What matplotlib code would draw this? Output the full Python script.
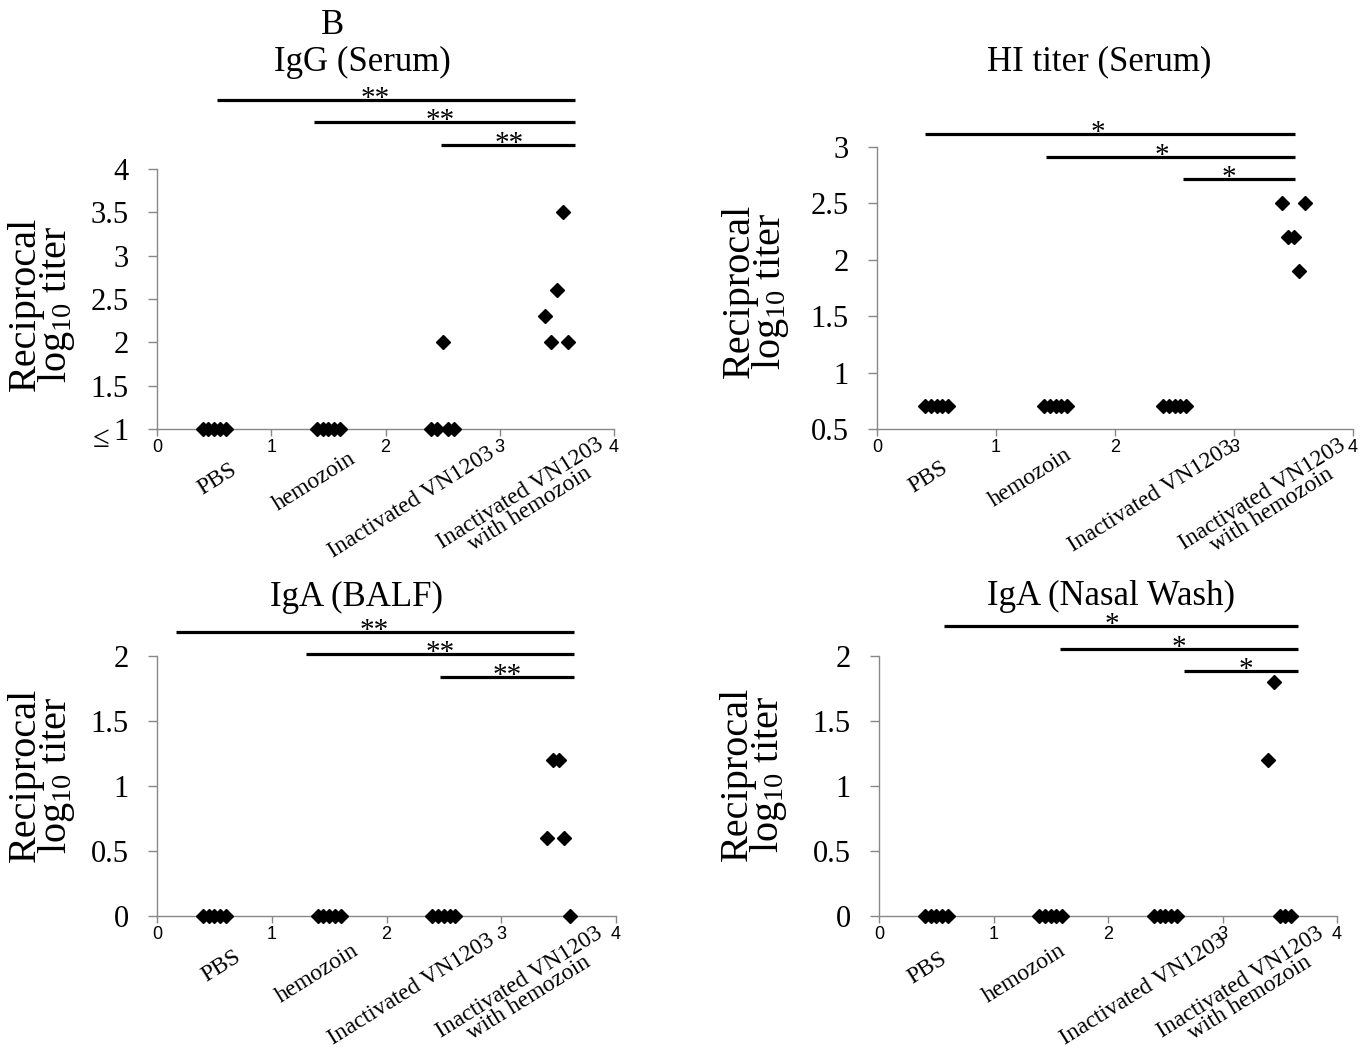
import matplotlib
matplotlib.use('Agg')
import matplotlib.pyplot as plt
from matplotlib.transforms import blended_transform_factory, offset_copy

plt.rcParams['font.family'] = ['Liberation Serif', 'DejaVu Serif']
plt.rcParams['mathtext.fontset'] = 'custom'
plt.rcParams['mathtext.rm'] = 'Liberation Serif'
plt.rcParams['mathtext.it'] = 'Liberation Serif:italic'

W, H = 1371, 1057

groups = ['PBS', 'hemozoin', 'Inactivated VN1203', 'Inactivated VN1203\nwith hemozoin']

# x position of each mouse, five per group
mouse_x = [0.4, 0.45, 0.5, 0.55, 0.6,
           1.4, 1.45, 1.5, 1.55, 1.6,
           2.4, 2.45, 2.5, 2.55, 2.6,
           3.4, 3.45, 3.5, 3.55, 3.6]

igg_serum = [1, 1, 1, 1, 1,
             1, 1, 1, 1, 1,
             1, 1, 2, 1, 1,
             2.3, 2.0, 2.6, 3.5, 2.0]
hi_serum = [0.7, 0.7, 0.7, 0.7, 0.7,
            0.7, 0.7, 0.7, 0.7, 0.7,
            0.7, 0.7, 0.7, 0.7, 0.7,
            2.5, 2.2, 2.2, 1.9, 2.5]
iga_balf = [0, 0, 0, 0, 0,
            0, 0, 0, 0, 0,
            0, 0, 0, 0, 0,
            0.6, 1.2, 1.2, 0.6, 0]
iga_nasal = [0, 0, 0, 0, 0,
             0, 0, 0, 0, 0,
             0, 0, 0, 0, 0,
             1.2, 1.8, 0, 0, 0]

titles = ['IgG (Serum)', 'HI titer (Serum)', 'IgA (BALF)', 'IgA (Nasal Wash)']

# significance bars: (start, end, height, stars, star x)
sig_igg = [(0.525, 3.66, 4.80, '**', 1.91),
           (1.37, 3.66, 4.54, '**', 2.48),
           (2.49, 3.66, 4.28, '**', 3.08)]
sig_hi = [(0.40, 3.51, 3.115, '*', 1.86),
          (1.418, 3.51, 2.914, '*', 2.39),
          (2.575, 3.51, 2.714, '*', 2.96)]
sig_balf = [(0.163, 3.63, 2.187, '**', 1.89),
            (1.30, 3.63, 2.015, '**', 2.47),
            (2.47, 3.63, 1.84, '**', 3.05)]
sig_nasal = [(0.57, 3.66, 2.23, '*', 2.03),
             (1.577, 3.66, 2.056, '*', 2.62),
             (2.66, 3.66, 1.882, '*', 3.205)]

fig = plt.figure(figsize=(W / 100, H / 100), dpi=100)


def fx(px):
    return px / W


def fy(py):
    return 1 - py / H


def draw_panel(box, values, ylim, ystep, title, title_xy, ylab_xy, sigs, cat_x, cat_off):
    x0, y0, x1, y1 = box  # pixel box: left, top, right, bottom
    ax = fig.add_axes([fx(x0), fy(y1), fx(x1 - x0), (y1 - y0) / H])
    ax.plot(mouse_x, values, linestyle='none', marker='D', markersize=7.5,
            color='black', clip_on=False, zorder=5)
    ax.set_xlim(0, 4)
    ax.set_ylim(*ylim)

    ax.set_xticks([0, 1, 2, 3, 4])
    ax.set_xticklabels(['0', '1', '2', '3', '4'], fontfamily='Liberation Sans', fontsize=13)
    yt = []
    v = ylim[0]
    while v <= ylim[1] + 1e-9:
        yt.append(round(v, 2))
        v += ystep
    ax.set_yticks(yt)
    ax.set_yticklabels([f'{t:g}' for t in yt], fontsize=22)

    for s in ['top', 'right']:
        ax.spines[s].set_visible(False)
    for s in ['left', 'bottom']:
        ax.spines[s].set_color('#888888')
        ax.spines[s].set_linewidth(1.0)
    ax.tick_params(axis='y', direction='out', length=6.5, width=1.0, color='#888888', pad=14)
    ax.tick_params(axis='x', direction='out', length=5, width=1.0, color='#888888', pad=2)

    # category names under the axis
    trans = blended_transform_factory(ax.transData, ax.transAxes)
    for name, cx, off in zip(groups, cat_x, cat_off):
        t = offset_copy(trans, fig=fig, x=0, y=-off, units='dots')
        ax.text(cx, 0, name, transform=t, rotation=32, rotation_mode='anchor',
                ha='center', va='center', multialignment='center',
                fontsize=17, linespacing=0.85)

    # significance bars
    for start, end, h, stars, sx in sigs:
        ax.plot([start, end], [h, h], color='black', linewidth=2.3,
                clip_on=False, solid_capstyle='butt')
        t = offset_copy(ax.transData, fig=fig, x=0, y=-6, units='dots')
        ax.text(sx, h, stars, transform=t, ha='center', va='baseline',
                fontsize=21, clip_on=False)

    fig.text(fx(title_xy[0]), fy(title_xy[1]), title, ha='center', va='center', fontsize=25)
    fig.text(fx(ylab_xy[0]), fy(ylab_xy[1]), 'Reciprocal\nlog$_{10}$ titer',
             ha='center', va='center', rotation=90, fontsize=29, linespacing=0.72)
    return ax


draw_panel((157, 169, 614, 429), igg_serum, (1, 4), 0.5, titles[0],
           (362, 62), (42, 304), sig_igg,
           [0.525, 1.374, 2.23, 3.22], [50, 53, 74, 72])
draw_panel((877, 147, 1353, 429), hi_serum, (0.5, 3), 0.5, titles[1],
           (1099, 62), (756, 291), sig_hi,
           [0.43, 1.29, 2.31, 3.28], [48, 49, 68, 73])
draw_panel((157, 656, 616, 916), iga_balf, (0, 2), 0.5, titles[2],
           (356, 597), (42, 775), sig_balf,
           [0.56, 1.4, 2.22, 3.2], [50, 58, 74, 74])
draw_panel((879, 656, 1337, 916), iga_nasal, (0, 2), 0.5, titles[3],
           (1111, 596), (754, 774), sig_nasal,
           [0.42, 1.27, 2.31, 3.2], [52, 58, 74, 74])

fig.text(fx(333), fy(25), 'B', ha='center', va='center', fontsize=25)
fig.text(fx(101), fy(440), '≤', ha='center', va='center', fontsize=22)

fig.savefig('out.png', dpi=100)
